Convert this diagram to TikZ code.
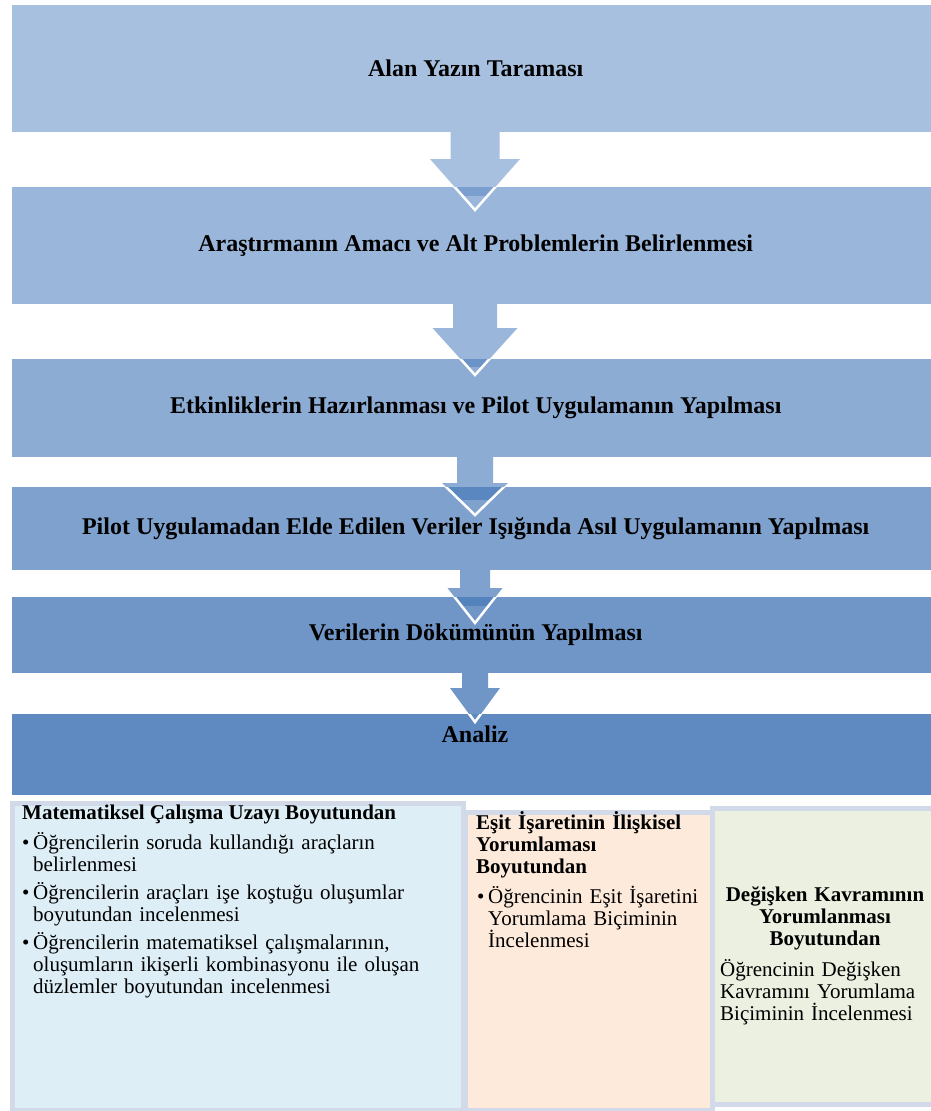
\documentclass[tikz,border=0pt]{standalone}
\usepackage{fontspec}
\setmainfont{Liberation Serif}
\definecolor{stA}{HTML}{A8C0DF}
\definecolor{stB}{HTML}{9AB6DA}
\definecolor{stC}{HTML}{8DACD4}
\definecolor{stD}{HTML}{7FA1CD}
\definecolor{stE}{HTML}{6F96C7}
\definecolor{stF}{HTML}{5F8AC1}
\definecolor{bdA}{HTML}{7A9ECE}
\definecolor{bdB}{HTML}{6B93C8}
\definecolor{bdC}{HTML}{5A87C0}
\definecolor{bdD}{HTML}{5482BD}
\definecolor{pnA}{HTML}{DEEEF6}
\definecolor{pnB}{HTML}{FDEADB}
\definecolor{pnC}{HTML}{EBF0E0}
\definecolor{pnEdge}{HTML}{D2D9E8}
\begin{document}
\begin{tikzpicture}[x=1pt,y=-1pt,
  stage/.style={rectangle, draw=none, inner sep=0pt, minimum width=927pt,
    anchor=north west, font=\bfseries\fontsize{24}{28}\selectfont},
  panel/.style={rectangle, draw=pnEdge, line width=5pt, inner sep=0pt, anchor=north west},
  paneltext/.style={inner sep=0pt, align=left, font=\fontsize{21}{22}\selectfont},
  paneltitle/.style={inner sep=0pt, align=left, font=\bfseries\fontsize{21}{22}\selectfont}]
\useasboundingbox (0,0) rectangle (931,1111);
\fill[white] (0,0) rectangle (931,1111);

% process stages
\node[stage, fill=stA, minimum height=127pt] (s1) at (12,5) {Alan Yazın Taraması};
\node[stage, fill=stB, minimum height=117pt] (s2) at (12,187) {Araştırmanın Amacı ve Alt Problemlerin Belirlenmesi};
\node[stage, fill=stC, minimum height=98pt] (s3) at (12,359) {Etkinliklerin Hazırlanması ve Pilot Uygulamanın Yapılması};
\node[stage, fill=stD, minimum height=83pt] (s4) at (12,487) {Pilot Uygulamadan Elde Edilen Veriler Işığında Asıl Uygulamanın Yapılması};
\node[stage, fill=stE, minimum height=76pt] (s5) at (12,597) {Verilerin Dökümünün Yapılması};
\node[stage, fill=stF, minimum height=81pt] (s6) at (12,714) {};
\node[inner sep=0pt, anchor=base, font=\bfseries\fontsize{24}{28}\selectfont] (s6t) at (475,742) {Analiz};

% block arrows between stages:
% stem half width / stem top / head start / head half width / tip / next stage top / band end / colours
\foreach \sw/\ya/\yh/\hw/\yt/\yb/\yd/\cu/\cl/\cb in {
  24.5/132/159/45/210/187/196/stA/stB/bdA,
  22/304/328/42.5/375/359/367/stB/stC/bdB,
  18/457/483/33/515/487/500/stC/stD/bdC,
  15/570/588/27.5/623/597/606/stD/stE/bdD,
  13/673/688/25/722/714/714/stE/stF/stF}{
  \fill[\cu] ({475-\sw},\ya) -- ({475-\sw},\yh) -- ({475-\hw},\yh) -- (475,\yt)
    -- ({475+\hw},\yh) -- ({475+\sw},\yh) -- ({475+\sw},\ya) -- cycle;
  \begin{scope}
    \clip (0,\yb) rectangle (940,{\yt+6});
    \begin{scope}
      \clip ({475-\sw},\ya) -- ({475-\sw},\yh) -- ({475-\hw},\yh) -- (475,\yt)
        -- ({475+\hw},\yh) -- ({475+\sw},\yh) -- ({475+\sw},\ya) -- cycle;
      \fill[\cl] (0,\yb) rectangle (940,{\yt+6});
      \fill[\cb] (0,\yb) rectangle (940,\yd);
    \end{scope}
    \draw[white, line width=2.5pt, line join=miter]
      ({475-\sw},\ya) -- ({475-\sw},\yh) -- ({475-\hw},\yh) -- (475,\yt)
      -- ({475+\hw},\yh) -- ({475+\sw},\yh) -- ({475+\sw},\ya);
  \end{scope}
}

% analysis dimensions
\node[panel, fill=pnA, minimum width=451pt, minimum height=307pt] (p1) at (9.5,800.5) {};
\node[panel, fill=pnB, minimum width=247pt, minimum height=298pt] (p2) at (462.5,809.5) {};
\node[panel, fill=pnC, minimum width=232pt, minimum height=296pt] (p3) at (709.5,805.5) {};

\node[paneltitle, anchor=base west] (p1t) at (22,819) {Matematiksel Çalışma Uzayı Boyutundan};
\node[paneltext, anchor=base west, text width=430pt] (p1b) at (22,849)
  {\makebox[11pt][l]{•}Öğrencilerin soruda kullandığı araçların\\
   \hspace*{11pt}belirlenmesi\\[6pt]
   \makebox[11pt][l]{•}Öğrencilerin araçları işe koştuğu oluşumlar\\
   \hspace*{11pt}boyutundan incelenmesi\\[6pt]
   \makebox[11pt][l]{•}Öğrencilerin matematiksel çalışmalarının,\\
   \hspace*{11pt}oluşumların ikişerli kombinasyonu ile oluşan\\
   \hspace*{11pt}düzlemler boyutundan incelenmesi};

\node[paneltitle, anchor=base west, text width=230pt] (p2t) at (476,829)
  {Eşit İşaretinin İlişkisel\\Yorumlaması\\Boyutundan};
\node[paneltext, anchor=base west, text width=230pt] (p2b) at (477,903)
  {\makebox[11pt][l]{•}Öğrencinin Eşit İşaretini\\
   \hspace*{11pt}Yorumlama Biçiminin\\
   \hspace*{11pt}İncelenmesi};

\node[paneltitle, anchor=base, align=center, text width=215pt] (p3t) at (825,901)
  {Değişken Kavramının\\Yorumlanması\\Boyutundan};
\node[paneltext, anchor=base west, text width=210pt] (p3b) at (720,976)
  {Öğrencinin Değişken\\Kavramını Yorumlama\\Biçiminin İncelenmesi};
\end{tikzpicture}
\end{document}
